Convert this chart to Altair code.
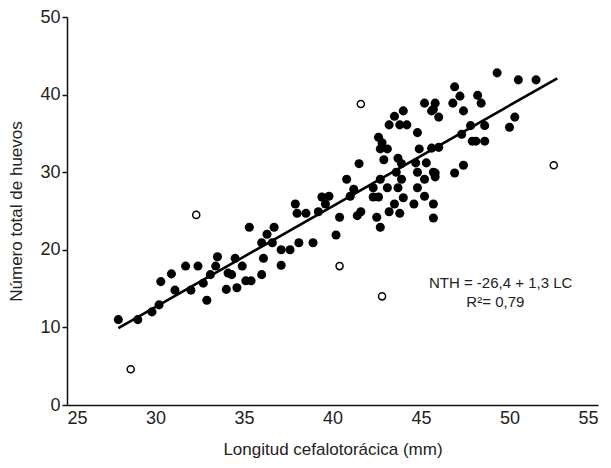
import altair as alt
import pandas as pd

# Filled points: longitud cefalotorácica (mm) and número total de huevos
lc = [27.9, 29.0, 29.8, 30.2, 30.3, 30.9, 31.1, 31.7, 32.4, 32.0, 32.9, 32.7, 33.1, 33.4, 33.5,
      34.0, 34.1, 34.6, 34.3, 34.5, 34.9, 35.1, 35.4, 36.0, 35.3, 36.1, 36.0, 36.3, 36.7, 36.6,
      37.1, 37.6, 37.1, 38.1, 38.9, 37.9, 38.0, 38.5, 39.2, 39.4, 39.8, 39.6, 40.2, 40.4,
      45.2, 45.8, 45.6, 46.0, 43.5, 44.0, 43.2, 43.8, 44.2, 44.8, 42.6, 42.8, 42.7, 43.1, 44.9,
      45.6, 46.0, 41.5, 42.9, 43.7, 43.9, 43.6, 44.7, 45.3, 45.7, 44.8, 40.8, 41.2, 42.7, 43.9,
      45.2, 45.8, 42.3, 43.1, 43.7, 44.8, 41.0, 42.3, 42.6, 45.2, 44.0, 43.5, 44.6, 45.7,
      41.4, 41.6, 42.5, 43.2, 43.8, 45.7, 42.7, 49.3, 50.5, 51.5, 46.9, 47.2, 48.2, 48.4, 46.8,
      45.7, 47.4, 47.8, 48.6, 50.3, 50.0, 47.3, 47.9, 48.1, 48.6, 47.4, 46.9, 45.8]
nth = [11.0, 11.0, 12.0, 12.9, 15.9, 16.9, 14.8, 17.9, 17.9, 14.8, 13.5, 15.7, 16.8, 17.9, 19.1,
       14.9, 17.0, 15.1, 16.8, 18.9, 17.9, 16.0, 16.0, 16.8, 22.9, 18.9, 20.9, 22.0, 22.9, 20.9,
       20.0, 20.0, 18.0, 20.9, 20.9, 25.9, 24.7, 24.7, 24.9, 26.8, 26.9, 25.9, 21.9, 24.2,
       38.9, 38.9, 37.9, 37.1, 37.2, 37.9, 36.1, 36.1, 36.1, 35.1, 34.5, 33.8, 33.0, 33.0, 33.0,
       33.1, 33.2, 31.1, 31.6, 31.8, 31.1, 30.0, 31.2, 31.2, 30.0, 30.0, 29.1, 27.8, 29.1, 29.1,
       29.1, 29.4, 28.0, 28.0, 28.0, 28.0, 26.9, 26.8, 26.8, 26.9, 26.7, 25.9, 25.9, 25.9,
       24.4, 24.9, 24.2, 24.9, 24.7, 24.1, 22.9, 42.8, 41.9, 41.9, 41.0, 39.8, 39.9, 38.9, 38.9,
       38.1, 37.9, 36.0, 36.0, 37.1, 35.8, 34.9, 34.0, 34.0, 34.0, 30.9, 29.9, 29.9]

# Open circles (outliers)
lc_out = [28.6, 32.3, 40.4, 41.6, 42.8, 52.5]
nth_out = [4.6, 24.5, 17.9, 38.8, 14.0, 30.9]

# Regression line endpoints: NTH = -26,4 + 1,3 LC
lc_line = [27.9, 52.7]
nth_line = [9.9, 42.1]

ann_lines = ["NTH = -26,4 + 1,3 LC", "R²= 0,79"]
ann_x = [49.5, 49.2]
ann_y = [15.7, 13.3]

FONT = "Liberation Sans Narrow, Liberation Sans, Arial, sans-serif"
TXT = "#222222"

pts = pd.DataFrame({"lc": lc, "nth": nth})
outs = pd.DataFrame({"lc": lc_out, "nth": nth_out})
line_df = pd.DataFrame({"lc": lc_line, "nth": nth_line})
ann = pd.DataFrame({"t": ann_lines, "x": ann_x, "y": ann_y})

xs = alt.Scale(domain=[25, 55], nice=False)
ys = alt.Scale(domain=[0, 50], nice=False)

xax = alt.Axis(values=[25, 30, 35, 40, 45, 50, 55], grid=False, ticks=False,
               labelPadding=4, title="Longitud cefalotorácica (mm)", titlePadding=14)
yax = alt.Axis(values=list(range(0, 51, 5)), grid=False, tickSize=5,
               labelPadding=2, title="Número total de huevos", titlePadding=14)

base_x = alt.X("lc:Q", scale=xs, axis=xax)
base_y = alt.Y("nth:Q", scale=ys, axis=yax)

filled = alt.Chart(pts).mark_circle(size=82, color="black", opacity=1).encode(x=base_x, y=base_y)
opened = alt.Chart(outs).mark_point(size=50, shape="circle", filled=False, color="black",
                                    strokeWidth=1.5, opacity=1).encode(x="lc:Q", y="nth:Q")
reg = alt.Chart(line_df).mark_line(color="black", strokeWidth=2.6).encode(x="lc:Q", y="nth:Q")
txt = alt.Chart(ann).mark_text(font=FONT, fontSize=15, color=TXT).encode(
    x="x:Q", y="y:Q", text="t:N")

chart = alt.layer(reg, filled, opened, txt).properties(
    width=531, height=388,
    autosize=alt.AutoSizeParams(type="none"),
    padding={"left": 59, "top": 9, "right": 5, "bottom": 62},
).configure_view(stroke=None).configure_axis(
    domainColor="#111111", domainWidth=1.5, tickColor="#111111", tickWidth=1.5,
    labelFont=FONT, labelFontSize=18, labelColor=TXT,
    titleFont=FONT, titleFontSize=17, titleColor=TXT, titleFontWeight="normal",
)

chart.save("out.html", embed_options={"renderer": "svg", "actions": False})
